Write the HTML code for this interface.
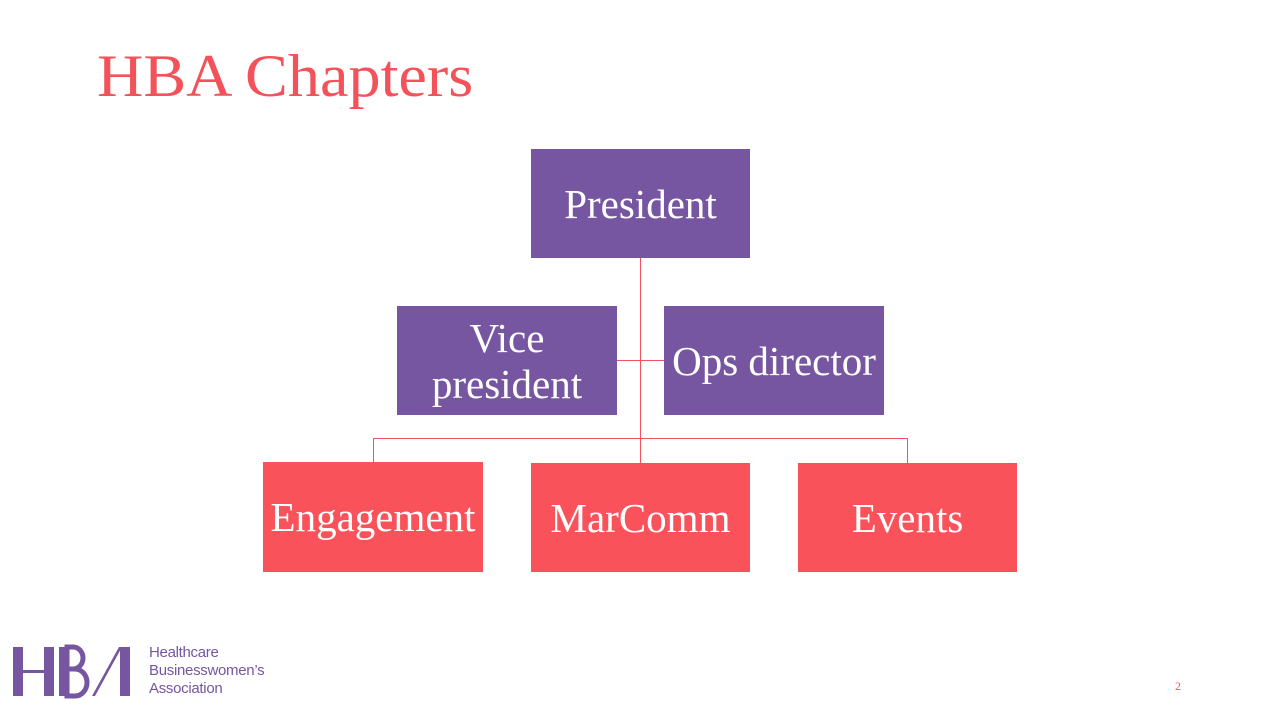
<!DOCTYPE html>
<html><head><meta charset="utf-8"><style>
body{margin:0;width:1280px;height:720px;background:#fff;position:relative;overflow:hidden;font-family:"Liberation Serif",serif}
.t{position:absolute;left:97px;top:46px;font-size:60px;color:#F4525B;line-height:1;transform:scaleX(1.07);transform-origin:left top}
.b{position:absolute;display:flex;align-items:center;justify-content:center;text-align:center;color:#fff;font-size:41px;line-height:46px;white-space:nowrap}
.p{background:#7656A0}.r{background:#F9525B}
.l{position:absolute;background:#F4525B}
.logo{position:absolute;left:149px;top:644px;font-family:"Liberation Sans",sans-serif;font-size:15px;line-height:18px;color:#7656A0;letter-spacing:-0.3px}
</style></head><body>
<div class="t">HBA Chapters</div>
<div class="l" style="left:640px;top:257px;width:1px;height:206px"></div>
<div class="l" style="left:617px;top:360px;width:47px;height:1px"></div>
<div class="l" style="left:373px;top:438px;width:535px;height:1px"></div>
<div class="l" style="left:373px;top:438px;width:1px;height:25px"></div>
<div class="l" style="left:907px;top:438px;width:1px;height:25px"></div>
<div class="b p" style="left:531px;top:149px;width:219px;height:109px">President</div>
<div class="b p" style="left:397px;top:306px;width:220px;height:109px">Vice<br>president</div>
<div class="b p" style="left:664px;top:306px;width:220px;height:109px">Ops director</div>
<div class="b r" style="left:263px;top:462px;width:220px;height:110px">Engagement</div>
<div class="b r" style="left:531px;top:463px;width:219px;height:109px">MarComm</div>
<div class="b r" style="left:798px;top:463px;width:219px;height:109px">Events</div>
<svg style="position:absolute;left:0;top:640px" width="140" height="60">
<g fill="#7656A0">
<rect x="13" y="7" width="10" height="49"/>
<rect x="13" y="30" width="34" height="3"/>
<rect x="44" y="7" width="10" height="49"/>
<rect x="59" y="7" width="8" height="49"/>
<path d="M67 7h6a10 11 0 0 1 0 22h-6zM67 29h8a12 13.5 0 0 1 0 27h-8z" fill="none" stroke="#7656A0" stroke-width="5"/>
<path d="M92 56l27-49h3l-27 49z"/>
<rect x="120" y="7" width="10" height="49"/>
</g></svg>
<div class="logo">Healthcare<br>Businesswomen’s<br>Association</div>
<div style="position:absolute;left:1175px;top:679px;font-size:12px;color:#F4525B">2</div>
</body></html>
